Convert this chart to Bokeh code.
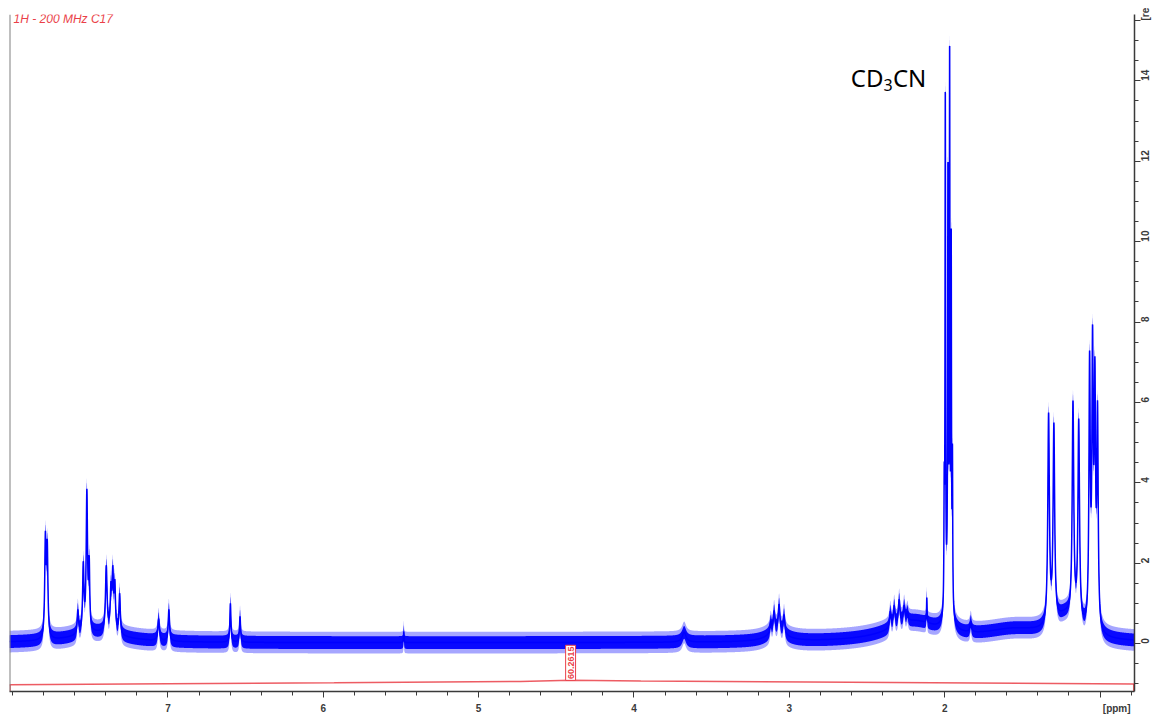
import math
import numpy as np
from bokeh.plotting import figure
from bokeh.models import Range1d, FixedTicker, Span, Label, ColumnDataSource
from bokeh.embed import file_html
from bokeh.resources import INLINE

# ---- 1H spectrum, 200 MHz, compound C17 (CD3CN) ----
# resolved lines: apex shift (ppm), apex intensity (rel), half width (ppm)
line_ppm = [7.789, 7.777, 7.580, 7.545, 7.522, 7.507, 7.397, 7.367, 7.355, 7.342, 7.311,
            7.060, 6.994, 6.598, 6.536, 5.482, 3.677,
            3.120, 3.098, 3.066, 3.034,
            2.350, 2.325, 2.293, 2.261, 2.240, 2.115,
            2.003, 1.996, 1.979, 1.968, 1.958, 1.950, 1.832,
            1.331, 1.297, 1.174, 1.137, 1.067, 1.048, 1.033, 1.016]
line_top = [2.80, 2.60, 0.85, 2.05, 3.85, 2.20, 1.95, 1.55, 1.95, 1.60, 1.25,
            0.62, 0.85, 1.00, 0.68, 0.30, 0.28,
            0.55, 0.82, 0.98, 0.72,
            0.80, 0.95, 1.10, 0.95, 0.80, 1.15,
            4.50, 13.90, 12.10, 15.05, 10.45, 5.00, 0.55,
            5.75, 5.50, 6.05, 5.60, 7.30, 7.95, 7.15, 6.05]
line_hw = [0.005, 0.005, 0.005, 0.005, 0.005, 0.004, 0.006, 0.005, 0.005, 0.005, 0.005,
           0.006, 0.005, 0.004, 0.004, 0.002, 0.015,
           0.006, 0.006, 0.006, 0.006,
           0.006, 0.006, 0.006, 0.006, 0.006, 0.002,
           0.002, 0.002, 0.002, 0.002, 0.002, 0.002, 0.006,
           0.006, 0.006, 0.006, 0.006, 0.005, 0.005, 0.005, 0.005]

# broad underlying humps: centre (ppm), height (rel), half width (ppm)
broad_ppm = [7.45, 3.08, 2.20, 1.975, 1.55, 1.22]
broad_amp = [0.25, 0.25, 0.50, 1.20, 0.28, 0.55]
broad_hw = [0.20, 0.07, 0.20, 0.015, 0.25, 0.09]

baseline_level = 0.02
noise_core = 0.16
noise_outer = 0.27

# integral trace and its value
integral_ppm = [8.02, 7.0, 5.93, 4.73, 4.41, 3.956, 2.88, 1.81, 0.78]
integral_val = [-1.02, -0.995, -0.97, -0.94, -0.913, -0.93, -0.955, -0.98, -1.005]
integral_text = "60.2615"
integral_at = 4.407

x_major = [1, 2, 3, 4, 5, 6, 7]
x_minor = [round(0.8 + 0.2 * i, 1) for i in range(37)]
y_major = [0, 2, 4, 6, 8, 10, 12, 14, 15.5]
y_minor = [-1.0 + 0.5 * i for i in range(34)]

X_START, X_END = 8.02, 0.778
Y_START, Y_END = -1.19, 15.65

BLUE = "#0000ff"
RED = "#ea3f48"
AXIS = "#3a3a3a"


def lorentz(x, c, w):
    return w * w / (w * w + (x - c) ** 2)


ppm = np.linspace(X_END, X_START, 14500)
lp = np.array(line_ppm)
lt = np.array(line_top)
lw = np.array(line_hw)

broad_grid = np.zeros_like(ppm)
broad_at_lines = np.zeros_like(lp)
for c, a, w in zip(broad_ppm, broad_amp, broad_hw):
    broad_grid += a * lorentz(ppm, c, w)
    broad_at_lines += a * lorentz(lp, c, w)

# line amplitudes so that the summed trace passes through each apex
A = lorentz(lp[:, None], lp[None, :], lw[None, :])
amp = np.clip(np.linalg.solve(A, lt - baseline_level - broad_at_lines), 0, None)

trace = baseline_level + broad_grid
for c, a, w in zip(lp, amp, lw):
    trace += a * lorentz(ppm, c, w)

src = ColumnDataSource(dict(
    ppm=ppm, trace=trace,
    core_lo=trace - noise_core, core_hi=trace + noise_core,
    out_lo=trace - noise_outer, out_hi=trace + noise_outer,
))

p = figure(frame_width=1125, frame_height=677,
           x_range=Range1d(X_START, X_END), y_range=Range1d(Y_START, Y_END),
           y_axis_location="right", output_backend="svg", toolbar_location=None,
           min_border_left=9, min_border_top=14, min_border_right=0, min_border_bottom=0)
p.outline_line_color = None
p.grid.visible = False
p.background_fill_color = "white"
p.border_fill_color = "white"

# spectrum trace
p.varea(x="ppm", y1="out_lo", y2="out_hi", source=src, fill_color=BLUE, fill_alpha=0.35)
p.varea(x="ppm", y1="core_lo", y2="core_hi", source=src, fill_color=BLUE, fill_alpha=0.95)
p.line(x="ppm", y="trace", source=src, line_color=BLUE, line_width=1.5)

# integral
p.line(integral_ppm, integral_val, line_color=RED, line_width=1.5, line_alpha=0.85)
p.segment(x0=[integral_ppm[0] - 0.004, integral_ppm[-1] + 0.003],
          y0=[integral_val[0], integral_val[-1]],
          x1=[integral_ppm[0] - 0.004, integral_ppm[-1] + 0.003],
          y1=[Y_START, Y_START], line_color=RED, line_width=1.5, line_alpha=0.85)
p.quad(left=[integral_at + 0.033], right=[integral_at - 0.031],
       bottom=[integral_val[4]], top=[-0.04],
       fill_color="white", line_color=RED, line_width=1)
p.text(x=[integral_at], y=[(integral_val[4] - 0.04) / 2], text=[integral_text],
       angle=math.pi / 2, text_align="center", text_baseline="middle",
       text_font_size="9px", text_font_style="bold", text_color=RED,
       text_font={"value": "Liberation Sans"})

# left frame edge
p.add_layout(Span(location=X_START, dimension="height", line_color="#808080", line_width=2))

# axes
xa = p.xaxis[0]
xa.ticker = FixedTicker(ticks=x_major, minor_ticks=x_minor)
xa.major_label_overrides = {1: "\u2007" * 6 + "[ppm]"}
ya = p.yaxis[0]
ya.ticker = FixedTicker(ticks=y_major, minor_ticks=y_minor)
ya.major_label_overrides = {15.5: "[re"}
ya.major_label_orientation = math.pi / 2
for ax in (xa, ya):
    ax.axis_line_color = AXIS
    ax.axis_line_width = 1.5
    ax.major_tick_line_color = AXIS
    ax.minor_tick_line_color = AXIS
    ax.major_tick_in = 0
    ax.minor_tick_in = 0
    ax.major_tick_out = 6
    ax.minor_tick_out = 4
    ax.major_label_text_font = "Liberation Sans"
    ax.major_label_text_font_style = "bold"
    ax.major_label_text_font_size = "10px"
    ax.major_label_text_color = AXIS
    ax.major_label_standoff = 5

# header and solvent annotation
p.add_layout(Label(x=7.994, y=15.53, text="1H - 200 MHz C17", text_baseline="middle",
                   text_font="Liberation Sans", text_font_style="italic", text_font_size="12px",
                   text_color=RED))
p.add_layout(Label(x=2.604, y=14.09, text="CD", text_baseline="alphabetic",
                   text_font="Noto Sans", text_font_size="24px", text_color="black"))
p.add_layout(Label(x=2.393, y=13.90, text="3", text_baseline="alphabetic",
                   text_font="Noto Sans", text_font_size="16px", text_color="black"))
p.add_layout(Label(x=2.333, y=14.09, text="CN", text_baseline="alphabetic",
                   text_font="Noto Sans", text_font_size="24px", text_color="black"))

open("out.html", "w").write(file_html(p, INLINE))
